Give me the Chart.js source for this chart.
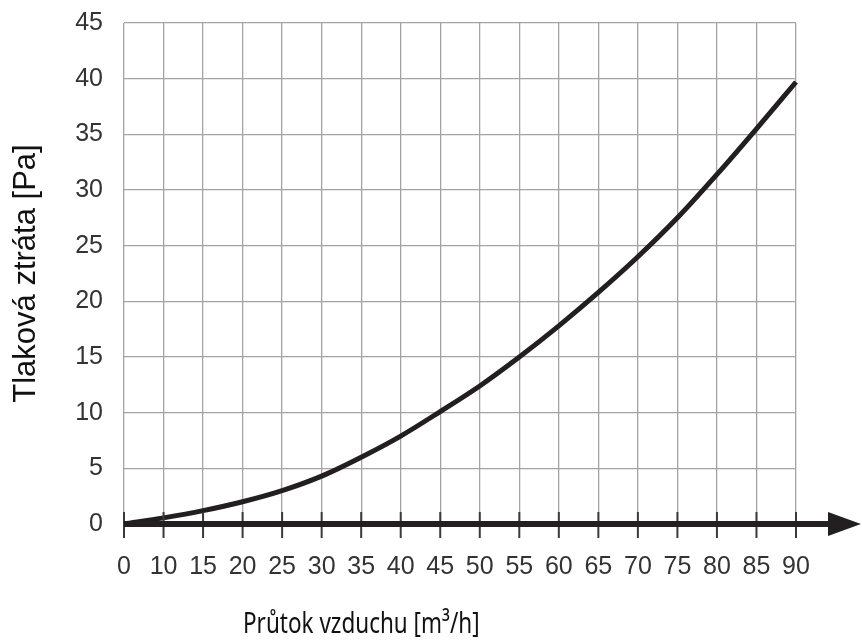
<!DOCTYPE html>
<html>
<head>
<meta charset="utf-8">
<script src="https://cdn.jsdelivr.net/npm/chart.js@4.4.1/dist/chart.umd.min.js"></script>
<style>
  html, body { margin: 0; padding: 0; background: #fff; }
  #wrap { width: 862px; height: 641px; position: relative; }
</style>
</head>
<body>
<div id="wrap"><canvas id="lossChart"></canvas></div>
<script>
// flow categories as printed under the axis (note: no 5)
const flowLabels = ['0', '10', '15', '20', '25', '30', '35', '40', '45', '50', '55', '60', '65', '70', '75', '80', '85', '90'];
// pressure loss at each grid line
const pressureLoss = [0, 0.55, 1.2, 2.0, 3.0, 4.3, 6.0, 7.9, 10.1, 12.4, 15.0, 17.8, 20.8, 24.0, 27.5, 31.4, 35.5, 39.7];
const yMin = 0;
const yMax = 45;
const yStep = 5;
const xTitle = 'Průtok vzduchu [m³/h]';
const yTitle = 'Tlaková ztráta [Pa]';

const gridColor = '#a4a4a4';
const inkColor = '#231f20';

// thick x axis with arrow, dark tick marks and the off-centre x title
const axisArrow = {
    id: 'axisArrow',
    afterDraw(chart) {
        const { ctx, chartArea, scales: { x, y } } = chart;
        const y0 = y.getPixelForValue(0);
        ctx.save();

        ctx.strokeStyle = '#3a3a3a';
        ctx.lineWidth = 2;
        x.ticks.forEach((t, i) => {
            const px = x.getPixelForTick(i);
            ctx.beginPath();
            ctx.moveTo(px, y0 - 12);
            ctx.lineTo(px, y0 + 14);
            ctx.stroke();
        });

        ctx.fillStyle = inkColor;
        const tipX = chart.width - 1;
        ctx.fillRect(chartArea.left, y0 - 3, tipX - 30 - chartArea.left, 6);
        ctx.beginPath();
        ctx.moveTo(tipX - 33, y0 - 12);
        ctx.lineTo(tipX, y0);
        ctx.lineTo(tipX - 33, y0 + 12);
        ctx.closePath();
        ctx.fill();

        ctx.fillStyle = '#111';
        ctx.font = '22.5px "Noto Sans", "Open Sans", sans-serif';
        ctx.textAlign = 'left';
        ctx.textBaseline = 'alphabetic';
        ctx.translate(243, 633);
        ctx.scale(1, 1.3);
        ctx.fillText(xTitle, 0, 0);
        ctx.restore();
    }
};

const canvas = document.getElementById('lossChart');
const ctx = canvas.getContext('2d');
const chart = new Chart(ctx, {
    type: 'line',
    data: {
        labels: flowLabels,
        datasets: [{
            label: yTitle,
            data: pressureLoss,
            borderColor: inkColor,
            borderWidth: 5,
            cubicInterpolationMode: 'monotone',
            pointRadius: 0,
            fill: false,
            clip: false
        }]
    },
    options: {
        responsive: true,
        maintainAspectRatio: false,
        animation: false,
        devicePixelRatio: 1,
        layout: {
            padding: { top: 23, right: 66, bottom: 0, left: 0 }
        },
        plugins: {
            legend: { display: false },
            tooltip: { enabled: false }
        },
        scales: {
            x: {
                type: 'category',
                offset: false,
                grid: {
                    color: gridColor,
                    lineWidth: 1.3,
                    drawTicks: true,
                    tickLength: 14,
                    tickColor: 'rgba(0,0,0,0)'
                },
                border: { display: false },
                ticks: {
                    color: '#333',
                    font: { family: '"Liberation Sans", Arial, sans-serif', size: 25 },
                    padding: 14,
                    maxRotation: 0,
                    autoSkip: false
                },
                afterFit(scale) {
                    scale.height = 641 - 524;
                    scale.paddingTop = 0;
                    scale.paddingBottom = 0;
                }
            },
            y: {
                min: yMin,
                max: yMax,
                grid: {
                    color: gridColor,
                    lineWidth: 1.3,
                    drawTicks: false
                },
                border: { display: false },
                ticks: {
                    stepSize: yStep,
                    color: '#333',
                    font: { family: '"Liberation Sans", Arial, sans-serif', size: 25 },
                    padding: 21
                },
                title: {
                    display: true,
                    text: yTitle,
                    color: '#111',
                    font: { family: '"Liberation Sans", Arial, sans-serif', size: 31 },
                    padding: { top: 8, bottom: 0 }
                },
                afterFit(scale) {
                    scale.width = 124;
                    scale.paddingTop = 0;
                    scale.paddingBottom = 0;
                }
            }
        }
    },
    plugins: [axisArrow]
});
</script>
</body>
</html>
